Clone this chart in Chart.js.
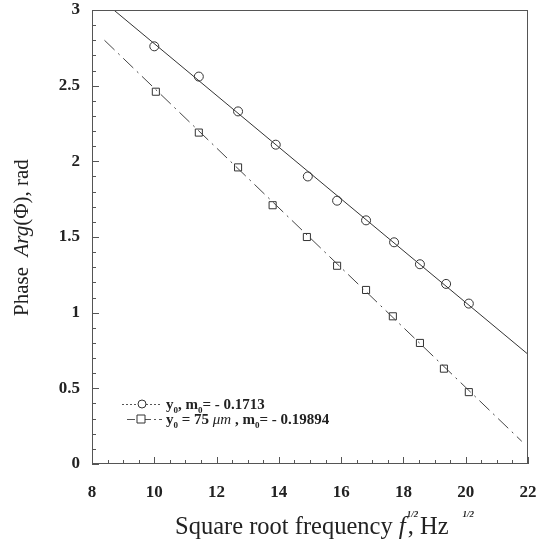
<!DOCTYPE html>
<html>
<head>
<meta charset="utf-8">
<script src="https://cdn.jsdelivr.net/npm/chart.js@4/dist/chart.umd.min.js"></script>
<style>
  html, body { margin: 0; padding: 0; background: #fff; }
  canvas { display: block; }
</style>
</head>
<body>
<canvas id="myChart" width="540" height="548"></canvas>
<script>
// measured points (sqrt frequency, phase)
const freqCircle = [10.0, 11.43, 12.69, 13.9, 14.93, 15.87, 16.8, 17.7, 18.53, 19.37, 20.1];
const phaseCircle = [2.76, 2.56, 2.33, 2.11, 1.90, 1.74, 1.61, 1.465, 1.32, 1.19, 1.06];
const freqSquare = [10.05, 11.43, 12.69, 13.8, 14.9, 15.87, 16.8, 17.66, 18.53, 19.3, 20.1];
const phaseSquare = [2.46, 2.19, 1.96, 1.71, 1.50, 1.31, 1.15, 0.976, 0.80, 0.63, 0.475];

// fitted lines, end points
const fitCircleX = [8.7, 22];
const fitCircleY = [3.0, 0.725];
const fitSquareX = [8.4, 21.8];
const fitSquareY = [2.80, 0.15];

const xTicks = [8, 10, 12, 14, 16, 18, 20, 22];
const yTicks = [0, 0.5, 1, 1.5, 2, 2.5, 3];

const ink = '#222';
const serif = '"Liberation Serif", "DejaVu Serif", serif';

function pts(xs, ys) { return xs.map((x, i) => ({x: x, y: ys[i]})); }

// inward ticks, frame, titles and legend
const decor = {
  id: 'decor',
  afterDraw(chart) {
    const ctx = chart.ctx;
    const a = chart.chartArea;
    const xs = chart.scales.x, ys = chart.scales.y;
    ctx.save();
    ctx.strokeStyle = '#555';
    ctx.lineWidth = 1;
    ctx.strokeRect(a.left + 0.5, a.top + 0.5, a.right - a.left - 1, a.bottom - a.top - 1);

    // x ticks
    for (let v = 8; v <= 22.001; v += 0.5) {
      const px = Math.round(xs.getPixelForValue(v)) + 0.5;
      const len = Math.abs(v % 2) < 0.01 ? 7 : 4;
      ctx.beginPath(); ctx.moveTo(px, a.bottom); ctx.lineTo(px, a.bottom - len); ctx.stroke();
    }
    // y ticks
    for (let i = 0; i <= 30; i++) {
      const v = i / 10;
      const py = Math.round(ys.getPixelForValue(v)) + 0.5;
      const len = i % 5 === 0 ? 7 : 4;
      ctx.beginPath(); ctx.moveTo(a.left, py); ctx.lineTo(a.left + len, py); ctx.stroke();
    }

    ctx.fillStyle = ink;
    ctx.textBaseline = 'alphabetic';

    // x title
    let x = 175, y = 534;
    ctx.textAlign = 'left';
    ctx.font = '24.5px ' + serif;
    ctx.fillText('Square root frequency ', x, y);
    x += ctx.measureText('Square root frequency ').width;
    ctx.font = 'italic 25px ' + serif;
    ctx.fillText('f', x, y);
    x += ctx.measureText('f').width + 1;
    ctx.font = 'italic bold 9px ' + serif;
    ctx.fillText('1/2', x, y - 17);
    ctx.font = '24.5px ' + serif;
    ctx.fillText(', Hz', x + 1, y);
    x += 1 + ctx.measureText(', Hz').width + 14;
    ctx.font = 'italic bold 9px ' + serif;
    ctx.fillText('1/2', x, y - 17);

    // y title
    ctx.save();
    ctx.translate(28, 316);
    ctx.rotate(-Math.PI / 2);
    let t = 0;
    ctx.font = '21px ' + serif;
    ctx.fillText('Phase  ', t, 0);
    t += ctx.measureText('Phase  ').width;
    ctx.font = 'italic 21px ' + serif;
    ctx.fillText('Arg', t, 0);
    t += ctx.measureText('Arg').width;
    ctx.font = '21px ' + serif;
    ctx.fillText('(\u03A6), rad', t, 0);
    ctx.restore();

    // legend
    const rows = [
      {y: 404, marker: 'circle', mx: 142, x0: 122, dash: [2, 2], parts: [['y', 0], ['0', 1], [', m', 0], ['0', 1], ['= - 0.1713', 0]]},
      {y: 419, marker: 'rect', mx: 141, x0: 127, dash: [8, 3, 2, 3], parts: [['y', 0], ['0', 1], [' = 75 ', 0], ['\u03BCm', 2], [' , m', 0], ['0', 1], ['= - 0.19894', 0]]}
    ];
    rows.forEach(r => {
      ctx.strokeStyle = '#555';
      ctx.setLineDash(r.dash);
      ctx.beginPath(); ctx.moveTo(r.x0, r.y + 0.5); ctx.lineTo(162, r.y + 0.5); ctx.stroke();
      ctx.setLineDash([]);
      ctx.fillStyle = '#fff';
      ctx.strokeStyle = '#333';
      ctx.beginPath();
      if (r.marker === 'circle') ctx.arc(r.mx, r.y, 4, 0, Math.PI * 2);
      else ctx.rect(r.mx - 4, r.y - 4, 8, 8);
      ctx.fill(); ctx.stroke();
      ctx.fillStyle = ink;
      let lx = 166;
      r.parts.forEach(p => {
        if (p[1] === 1) {
          ctx.font = 'bold 9px ' + serif;
          ctx.fillText(p[0], lx, r.y + 9);
        } else if (p[1] === 2) {
          ctx.font = 'italic 15px ' + serif;
          ctx.fillText(p[0], lx, r.y + 5);
        } else {
          ctx.font = 'bold 15px ' + serif;
          ctx.fillText(p[0], lx, r.y + 5);
        }
        lx += ctx.measureText(p[0]).width;
      });
    });
    ctx.restore();
  }
};

const ctx = document.getElementById('myChart').getContext('2d');
const mychart = new Chart(ctx, {
  type: 'scatter',
  data: {
    datasets: [
      {
        label: 'fit circle',
        type: 'line',
        data: pts(fitCircleX, fitCircleY),
        borderColor: '#333',
        borderWidth: 1,
        pointRadius: 0,
        fill: false
      },
      {
        label: 'fit square',
        type: 'line',
        data: pts(fitSquareX, fitSquareY),
        borderColor: '#444',
        borderWidth: 1,
        borderDash: [14, 5, 2, 5],
        pointRadius: 0,
        fill: false
      },
      {
        label: 'y0',
        data: pts(freqCircle, phaseCircle),
        pointStyle: 'circle',
        pointRadius: 4.5,
        borderColor: '#333',
        backgroundColor: '#fff',
        borderWidth: 1
      },
      {
        label: 'y0 = 75 um',
        data: pts(freqSquare, phaseSquare),
        pointStyle: 'rect',
        pointRadius: 5,
        borderColor: '#333',
        backgroundColor: '#fff',
        borderWidth: 1
      }
    ]
  },
  options: {
    responsive: false,
    animation: false,
    layout: { padding: { top: 10, right: 12, left: 0, bottom: 0 } },
    plugins: { legend: { display: false }, tooltip: { enabled: false } },
    scales: {
      x: {
        type: 'linear',
        min: 8, max: 22,
        afterBuildTicks: s => { s.ticks = xTicks.map(v => ({value: v})); },
        afterFit: s => { s.height = 84; s.paddingLeft = 0; s.paddingRight = 0; },
        grid: { display: false },
        border: { display: false },
        ticks: {
          padding: 10,
          color: ink,
          font: { family: serif, size: 17, weight: 'bold' },
          callback: v => String(v)
        }
      },
      y: {
        min: 0, max: 3,
        afterBuildTicks: s => { s.ticks = yTicks.map(v => ({value: v})); },
        afterFit: s => { s.width = 92; s.paddingTop = 0; s.paddingBottom = 0; },
        grid: { display: false },
        border: { display: false },
        ticks: {
          padding: 4,
          color: ink,
          font: { family: serif, size: 17, weight: 'bold' },
          callback: v => String(v)
        }
      }
    }
  },
  plugins: [decor]
});
</script>
</body>
</html>
